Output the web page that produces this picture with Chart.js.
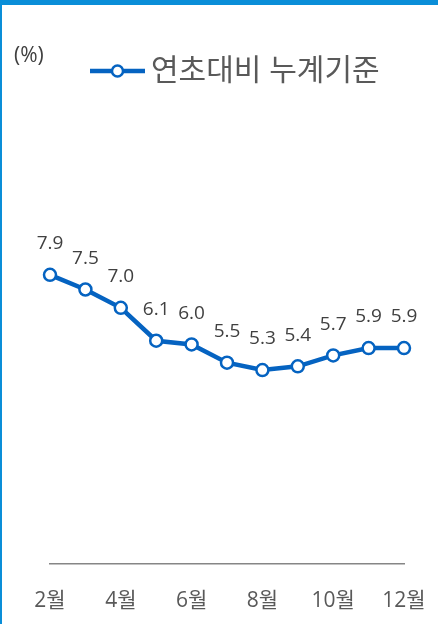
<!DOCTYPE html>
<html>
<head>
<meta charset="utf-8">
<script src="https://cdn.jsdelivr.net/npm/chart.js@4"></script>
<style>
  html, body { margin: 0; padding: 0; background: #fff; }
  #wrap { position: relative; width: 438px; height: 624px; }
  #c { position: absolute; left: 0; top: 0; }
  #frame { position: absolute; left: 0; top: 0; width: 438px; height: 624px; box-sizing: border-box;
           border-top: 5px solid #0a8ed8; border-left: 2px solid #0a8ed8; pointer-events: none; }
</style>
</head>
<body>
<div id="wrap">
  <canvas id="c" width="438" height="624"></canvas>
  <div id="frame"></div>
</div>
<script>
const categories = ['2월','3월','4월','5월','6월','7월','8월','9월','10월','11월','12월'];
const values = [7.9, 7.5, 7.0, 6.1, 6.0, 5.5, 5.3, 5.4, 5.7, 5.9, 5.9];
const seriesName = '연초대비 누계기준';
const unitLabel = '(%)';

const BLUE = '#0563c1';
const FONT = "'Open Sans', 'Noto Sans CJK KR', sans-serif";

const overlay = {
  id: 'overlay',
  afterDatasetsDraw(chart) {
    const ctx = chart.ctx;
    const meta = chart.getDatasetMeta(0);
    ctx.save();
    // data labels
    ctx.font = '19px ' + FONT;
    ctx.fillStyle = '#404040';
    ctx.textAlign = 'center';
    ctx.textBaseline = 'middle';
    meta.data.forEach((pt, i) => {
      ctx.fillText(values[i].toFixed(1), pt.x, pt.y - 31);
    });
    // unit label
    ctx.textAlign = 'left';
    ctx.font = '21px ' + FONT;
    ctx.fillText(unitLabel, 14, 56);
    // legend
    const ly = 71;
    ctx.strokeStyle = BLUE;
    ctx.lineWidth = 4.5;
    ctx.beginPath();
    ctx.moveTo(90, ly); ctx.lineTo(145, ly);
    ctx.stroke();
    ctx.beginPath();
    ctx.arc(117.5, ly, 5.5, 0, Math.PI * 2);
    ctx.fillStyle = '#fff';
    ctx.fill();
    ctx.lineWidth = 2.5;
    ctx.stroke();
    ctx.fillStyle = '#595959';
    ctx.font = '30px ' + FONT;
    ctx.fillText(seriesName, 151, ly);
    ctx.restore();
  }
};

new Chart(document.getElementById('c'), {
  type: 'line',
  data: {
    labels: categories,
    datasets: [{
      label: seriesName,
      data: values,
      borderColor: BLUE,
      borderWidth: 4.5,
      backgroundColor: '#fff',
      pointBackgroundColor: '#fff',
      pointBorderColor: BLUE,
      pointBorderWidth: 2.5,
      pointRadius: 6,
      tension: 0,
      fill: false
    }]
  },
  options: {
    responsive: false,
    animation: false,
    events: [],
    layout: { padding: { left: 50, right: 34, top: 198, bottom: 13 } },
    plugins: { legend: { display: false }, tooltip: { enabled: false }, title: { display: false } },
    scales: {
      x: {
        offset: false,
        grid: { display: false, drawTicks: false },
        border: { display: true, color: '#868686', width: 1.5 },
        ticks: {
          autoSkip: false,
          maxRotation: 0,
          padding: 24,
          color: '#595959',
          font: { size: 21, family: FONT },
          callback: function(v, i) { return i % 2 === 0 ? categories[i] : ''; }
        },
        afterFit: function(scale) { scale.height = 47; scale.paddingLeft = 0; scale.paddingRight = 0; }
      },
      y: {
        display: false,
        min: 0,
        max: 10
      }
    }
  },
  plugins: [overlay]
});
</script>
</body>
</html>
